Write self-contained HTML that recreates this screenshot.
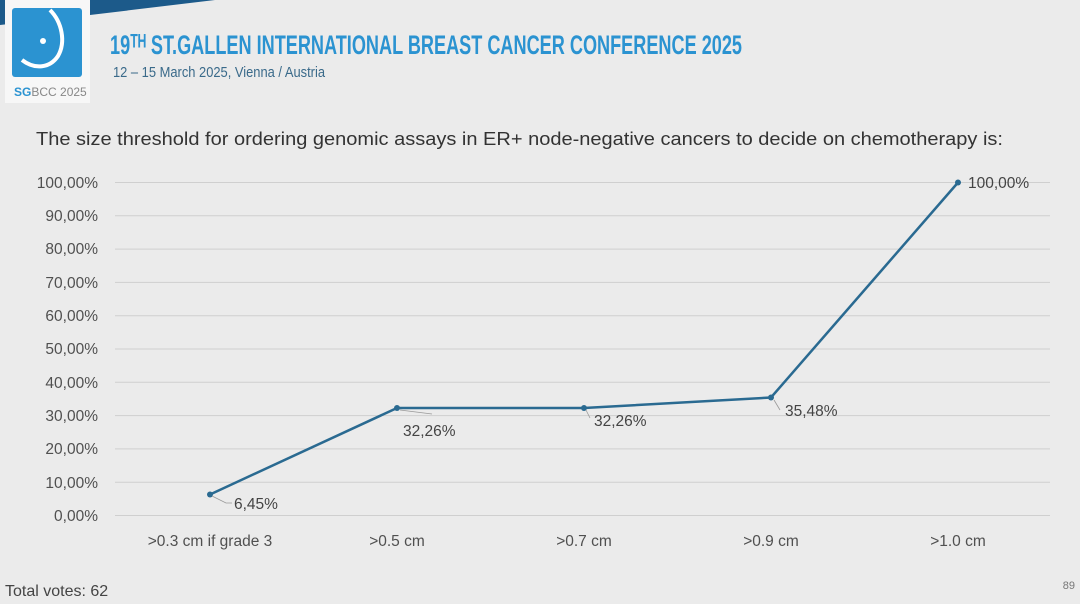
<!DOCTYPE html>
<html><head><meta charset="utf-8"><style>
body{margin:0;width:1080px;height:599px;overflow:hidden;background:#ebebeb;font-family:"Liberation Sans",sans-serif}
</style></head><body>
<svg width="1080" height="599" xmlns="http://www.w3.org/2000/svg">
<rect width="1080" height="599" fill="#ebebeb"/>
<polygon points="0,0 215,0 90,15 0,25" fill="#1c5a8a"/>
<rect x="5" y="0" width="85" height="103" fill="#f7f7f7"/>
<rect x="12" y="8" width="70" height="69" rx="3" fill="#2b93d1"/>
<path d="M50,10 C62,22 66,42 58,56 C50,68 35,70 22,60" stroke="#fff" stroke-width="4" fill="none"/>
<circle cx="43" cy="41" r="3" fill="#fff"/>
<text x="14" y="96" font-size="12" fill="#2b93d1" font-weight="bold">SG<tspan font-weight="normal" fill="#888">BCC 2025</tspan></text>
<text x="110" y="54" font-size="27" font-weight="bold" fill="#2b93d1" font-family="Liberation Sans Narrow, Liberation Sans, sans-serif" textLength="632" lengthAdjust="spacingAndGlyphs">19ᵀᴴ ST.GALLEN INTERNATIONAL BREAST CANCER CONFERENCE 2025</text>
<text x="113" y="77" font-size="15" fill="#3a6a8a" textLength="212" lengthAdjust="spacingAndGlyphs">12 – 15 March 2025, Vienna / Austria</text>
<text x="36" y="145" font-size="18.5" fill="#333" textLength="967" lengthAdjust="spacingAndGlyphs">The size threshold for ordering genomic assays in ER+ node-negative cancers to decide on chemotherapy is:</text>
<g stroke="#cfcfcf" stroke-width="1">
<line x1="115" x2="1050" y1="182.5" y2="182.5"/><line x1="115" x2="1050" y1="215.8" y2="215.8"/>
<line x1="115" x2="1050" y1="249.1" y2="249.1"/><line x1="115" x2="1050" y1="282.4" y2="282.4"/>
<line x1="115" x2="1050" y1="315.7" y2="315.7"/><line x1="115" x2="1050" y1="349" y2="349"/>
<line x1="115" x2="1050" y1="382.3" y2="382.3"/><line x1="115" x2="1050" y1="415.6" y2="415.6"/>
<line x1="115" x2="1050" y1="448.9" y2="448.9"/><line x1="115" x2="1050" y1="482.2" y2="482.2"/>
<line x1="115" x2="1050" y1="515.5" y2="515.5"/>
</g>
<g font-size="15.5" fill="#505050" text-anchor="end">
<text x="98" y="188">100,00%</text><text x="98" y="221">90,00%</text><text x="98" y="254">80,00%</text>
<text x="98" y="288">70,00%</text><text x="98" y="321">60,00%</text><text x="98" y="354">50,00%</text>
<text x="98" y="388">40,00%</text><text x="98" y="421">30,00%</text><text x="98" y="454">20,00%</text>
<text x="98" y="488">10,00%</text><text x="98" y="521">0,00%</text>
</g>
<g font-size="15.5" fill="#505050" text-anchor="middle">
<text x="210" y="546">&gt;0.3 cm if grade 3</text><text x="397" y="546">&gt;0.5 cm</text>
<text x="584" y="546">&gt;0.7 cm</text><text x="771" y="546">&gt;0.9 cm</text><text x="958" y="546">&gt;1.0 cm</text>
</g>
<polyline points="210,494.5 397,408 584,408 771,397.5 958,182.5" fill="none" stroke="#2a6a91" stroke-width="2.5"/>
<g fill="#2a6a91"><circle cx="210" cy="494.5" r="3"/><circle cx="397" cy="408" r="3"/><circle cx="584" cy="408" r="3"/><circle cx="771" cy="397.5" r="3"/><circle cx="958" cy="182.5" r="3"/></g>
<g stroke="#999" fill="none" stroke-width="0.8">
<polyline points="212,496 226,503 232,503"/><polyline points="400,410 432,414"/><polyline points="586,410 590,418"/><polyline points="774,400 780,410"/>
</g>
<g font-size="15.5" fill="#444">
<text x="234" y="509">6,45%</text><text x="403" y="436">32,26%</text><text x="594" y="426">32,26%</text>
<text x="785" y="416">35,48%</text><text x="968" y="188">100,00%</text>
</g>
<text x="5" y="596" font-size="16" fill="#444">Total votes: 62</text>
<text x="1075" y="589" font-size="11" fill="#777" text-anchor="end">89</text>
</svg>
</body></html>
